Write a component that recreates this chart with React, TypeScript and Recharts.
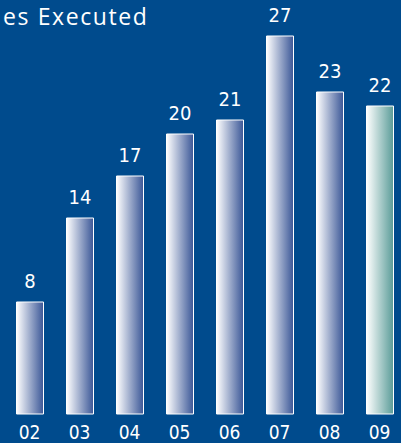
import React from 'react';
import { BarChart, Bar, XAxis, YAxis, Cell, LabelList } from 'recharts';

const years = ['02', '03', '04', '05', '06', '07', '08', '09'];
const executed = [8, 14, 17, 20, 21, 27, 23, 22];

const data = years.map((year, i) => ({ year, value: executed[i] }));

const BG = '#004b8d';
const NARROW = '"Liberation Sans Narrow", "DejaVu Sans Condensed", sans-serif';

export default function App() {
  return (
    <div
      style={{
        position: 'absolute',
        left: 0,
        top: 0,
        width: 401,
        height: 443,
        background: BG,
        overflow: 'hidden',
      }}
    >
      <BarChart
        width={410}
        height={443}
        data={data}
        margin={{ top: 8, right: 5.5, left: 4.5, bottom: 0 }}
      >
        <defs>
          <linearGradient id="gradBlue" x1="0" y1="0" x2="1" y2="0">
            <stop offset="0%" stopColor="#ffffff" />
            <stop offset="100%" stopColor="#3b5797" />
          </linearGradient>
          <linearGradient id="gradTeal" x1="0" y1="0" x2="1" y2="0">
            <stop offset="0%" stopColor="#ffffff" />
            <stop offset="100%" stopColor="#5a9c98" />
          </linearGradient>
        </defs>
        <XAxis
          dataKey="year"
          axisLine={false}
          tickLine={false}
          tickSize={0}
          tickMargin={12}
          height={29}
          interval={0}
          tick={{ fill: '#ffffff', fontSize: 19, fontFamily: NARROW }}
        />
        <YAxis hide domain={[0, 29]} />
        <Bar dataKey="value" barSize={27} stroke="#ffffff" strokeWidth={1} isAnimationActive={false}>
          {data.map((d, i) => (
            <Cell key={d.year} fill={i === data.length - 1 ? 'url(#gradTeal)' : 'url(#gradBlue)'} />
          ))}
          <LabelList
            dataKey="value"
            position="top"
            offset={14}
            fill="#ffffff"
            fontSize={20}
            fontFamily={NARROW}
          />
        </Bar>
      </BarChart>
      <svg
        width={401}
        height={40}
        style={{ position: 'absolute', left: 0, top: 0, pointerEvents: 'none' }}
      >
        <text
          x={3}
          y={25}
          fill="#ffffff"
          fontSize={23}
          fontFamily='"Open Sans", sans-serif'
          letterSpacing={1.6}
        >
          es Executed
        </text>
      </svg>
    </div>
  );
}
